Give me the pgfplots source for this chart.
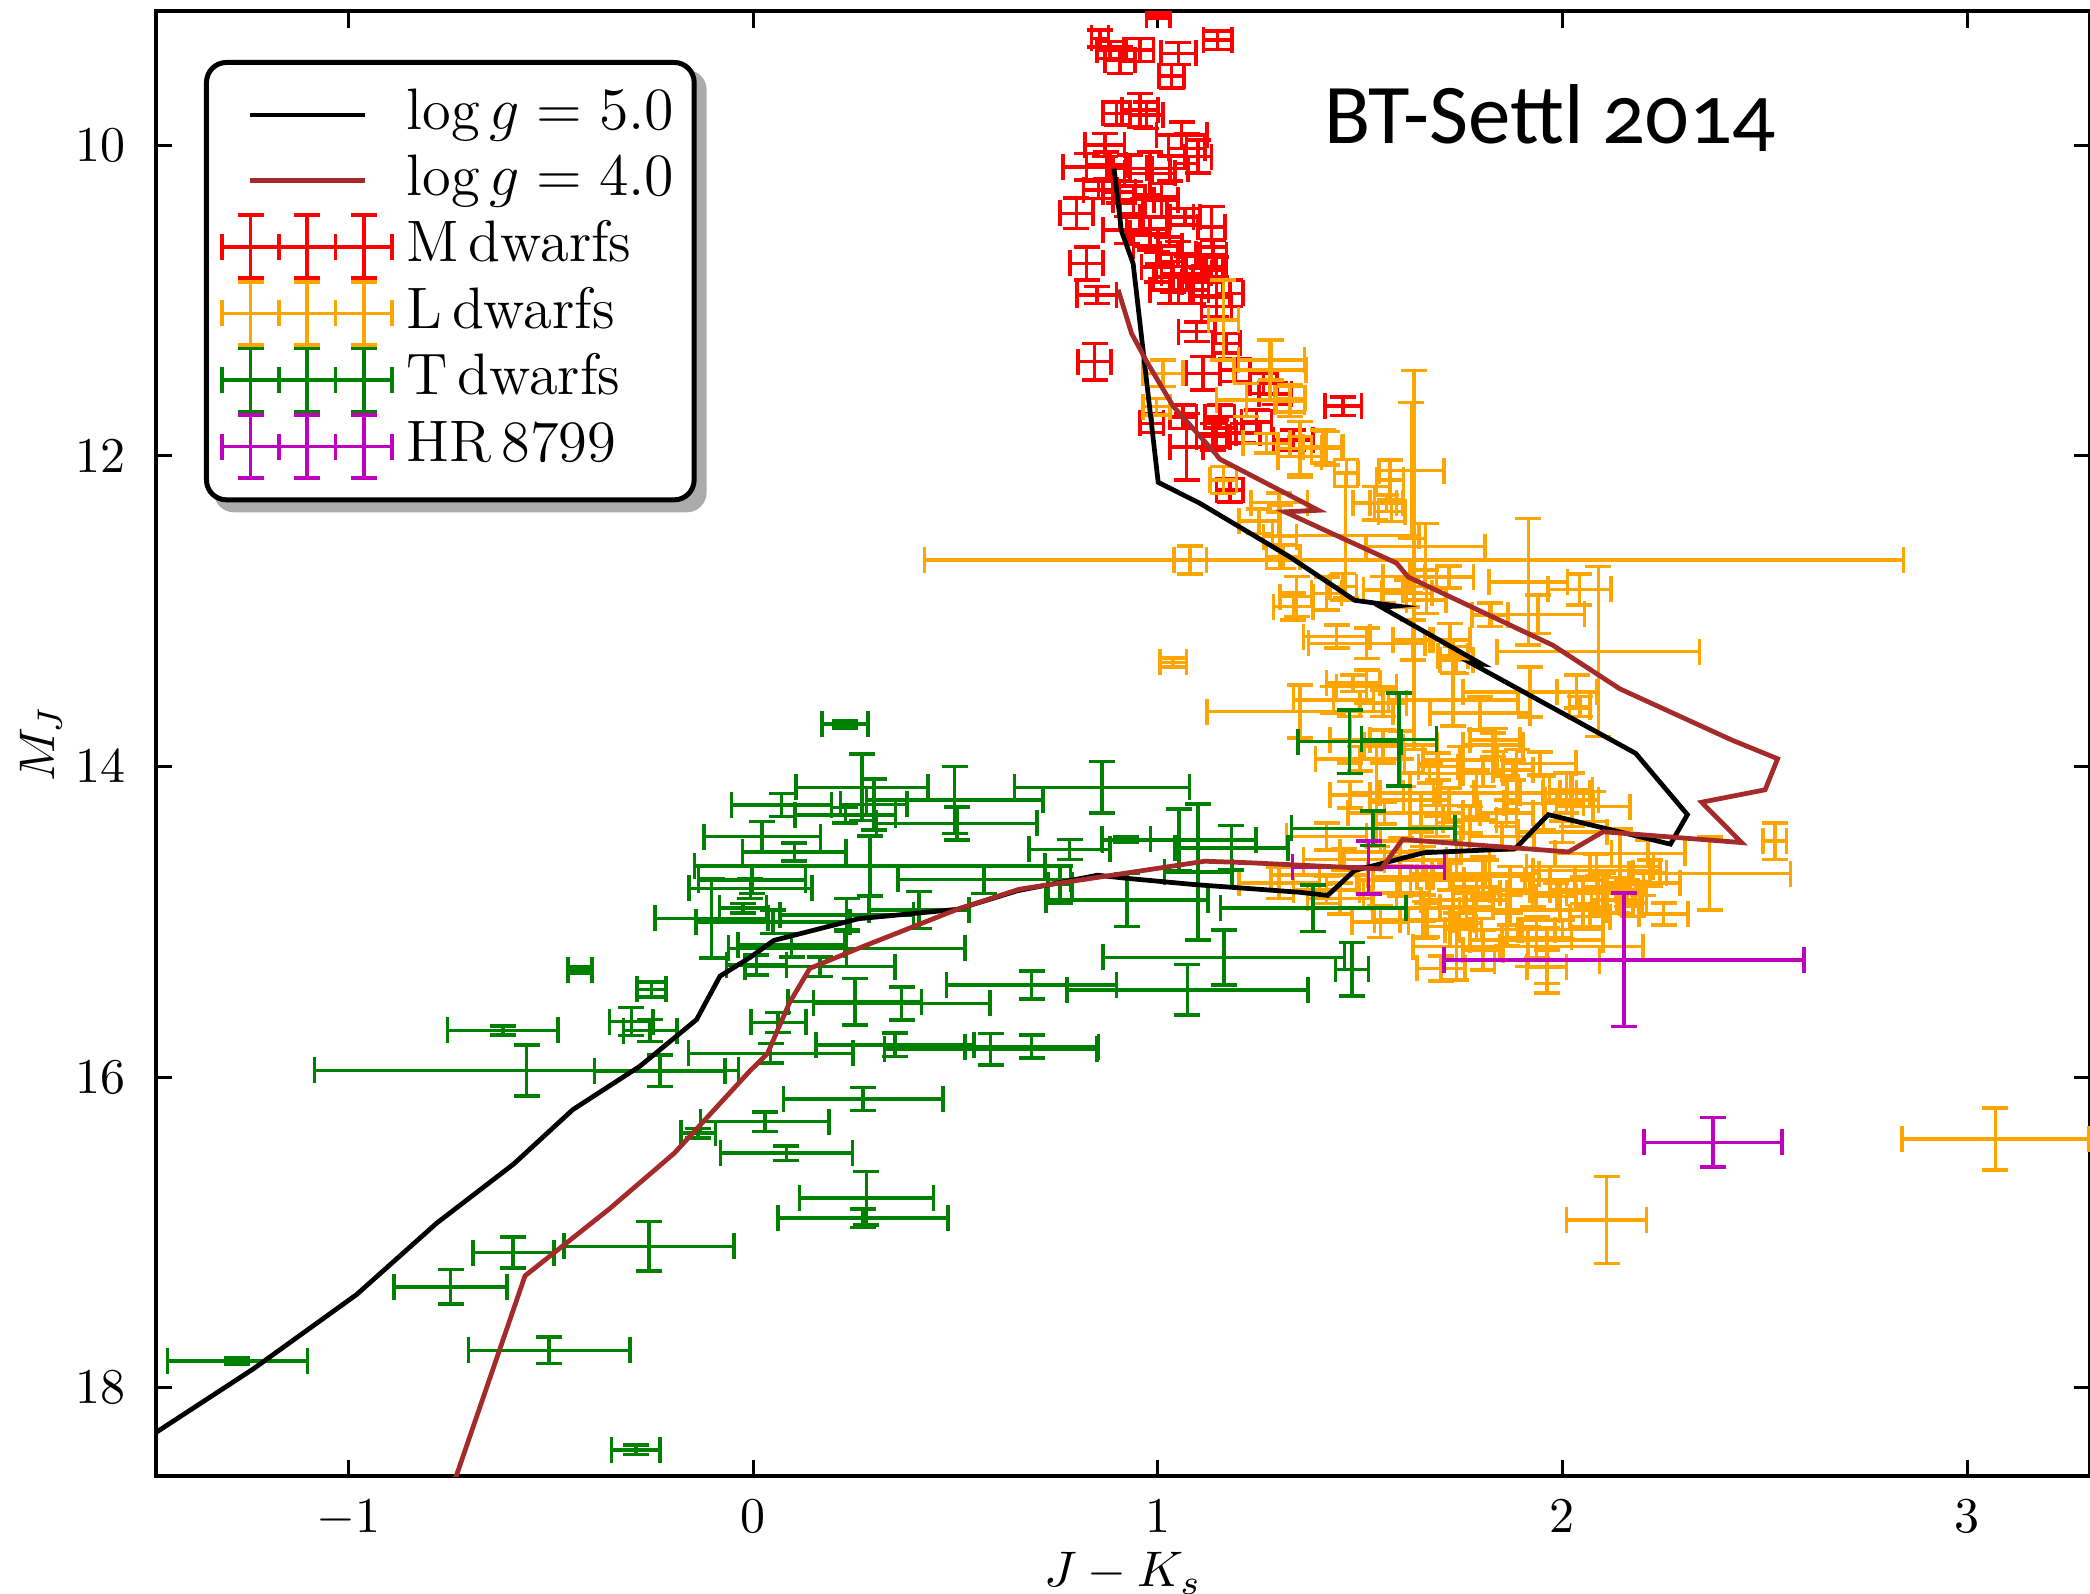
\documentclass[border=0pt]{standalone}
\usepackage{fontspec}
\usepackage{pgfplots}
\pgfplotsset{compat=1.18}
\usepackage{pgfplotstable}
\pgfdeclarelayer{background}
\pgfsetlayers{background,main}
\newfontfamily\titlefont[Numbers=OldStyle]{Carlito}
\definecolor{mred}{rgb}{1,0,0}
\definecolor{lorange}{rgb}{1,0.647,0}
\definecolor{tgreen}{rgb}{0,0.5,0}
\definecolor{hrmag}{rgb}{0.75,0,0.75}
\definecolor{brownline}{HTML}{A52A2A}
\pgfplotsset{
 shortline/.style={legend image code/.code={\draw[##1] (5.5pt,0pt)--(28.5pt,0pt);}},
 errleg/.style={legend image code/.code={%
   \draw[##1] (0pt,0pt)--(34pt,0pt);
   \foreach \c in {0,11.33,22.67,34}{\draw[##1] (\c pt,-2.6pt)--(\c pt,2.6pt);}
   \foreach \c in {5.67,17,28.33}{%
     \draw[##1] (\c pt,-6.3pt)--(\c pt,6.3pt);
     \draw[##1] (\c pt-2.6pt,-6.3pt)--(\c pt+2.6pt,-6.3pt);
     \draw[##1] (\c pt-2.6pt,6.3pt)--(\c pt+2.6pt,6.3pt);}
 }},
 errpts/.style={color=#1, only marks, mark=*, mark size=0pt, line width=0.72pt,
   error bars/.cd, x dir=both, x explicit, y dir=both, y explicit,
   error bar style={line width=0.72pt, #1},
   error mark options={rotate=90, line width=0.72pt, mark size=2.6pt, #1},
   /pgfplots/.cd},
}
\pgfplotstableread{
x y ex ey
1.001 9.161 0.029 0.021
0.857 9.311 0.021 0.054
0.882 9.386 0.033 0.054
0.906 9.451 0.037 0.086
0.956 9.386 0.033 0.075
1.051 9.408 0.043 0.071
1.034 9.554 0.031 0.075
1.148 9.322 0.035 0.060
0.956 9.773 0.045 0.107
0.898 9.794 0.033 0.075
0.972 9.805 0.041 0.086
1.059 9.934 0.062 0.086
1.071 10.020 0.045 0.097
1.100 10.073 0.033 0.107
0.869 9.998 0.049 0.075
0.824 10.138 0.058 0.086
0.873 10.127 0.049 0.086
0.931 10.148 0.041 0.086
0.980 10.181 0.062 0.140
0.853 10.288 0.037 0.054
0.799 10.438 0.041 0.097
1.009 10.352 0.041 0.107
0.964 10.460 0.058 0.118
1.022 10.460 0.066 0.129
1.067 10.460 0.037 0.054
1.133 10.524 0.033 0.129
0.923 10.545 0.058 0.086
0.980 10.567 0.049 0.107
1.137 10.706 0.033 0.097
0.824 10.760 0.041 0.107
0.997 10.782 0.037 0.097
1.038 10.846 0.049 0.097
1.071 10.824 0.062 0.107
1.112 10.782 0.049 0.075
1.145 10.782 0.025 0.064
1.030 10.932 0.049 0.086
1.088 10.932 0.037 0.086
0.849 10.964 0.049 0.054
1.145 11.039 0.037 0.064
1.178 10.953 0.033 0.086
1.096 11.200 0.045 0.064
1.170 11.275 0.033 0.064
0.844 11.393 0.041 0.118
1.112 11.468 0.041 0.107
1.191 11.447 0.037 0.075
1.261 11.533 0.033 0.064
1.458 11.679 0.045 0.060
0.985 11.790 0.029 0.060
1.063 11.748 0.033 0.075
1.071 11.941 0.041 0.215
1.145 11.855 0.049 0.086
1.244 11.780 0.037 0.075
1.335 11.898 0.049 0.064
1.178 12.220 0.033 0.075
1.137 11.876 0.041 0.086
1.211 11.854 0.041 0.064
1.153 11.747 0.037 0.075
1.290 11.600 0.040 0.070
0.940 10.350 0.050 0.090
1.000 10.650 0.060 0.110
1.050 10.700 0.045 0.080
0.905 10.300 0.040 0.070
1.110 10.880 0.050 0.090
1.030 10.150 0.045 0.080
}\Mdw
\pgfplotstableread{
x y ex ey
1.281 11.382 0.082 0.129
1.162 11.125 0.037 0.258
1.013 11.468 0.049 0.086
0.997 11.683 0.033 0.054
1.219 11.640 0.074 0.107
1.327 11.630 0.037 0.086
1.409 11.940 0.049 0.107
1.351 12.005 0.054 0.129
1.269 11.919 0.058 0.064
1.466 12.110 0.029 0.086
1.162 12.155 0.033 0.086
1.574 12.155 0.033 0.129
1.565 12.305 0.041 0.054
1.277 11.447 0.089 0.193
1.326 11.650 0.037 0.097
1.351 11.951 0.054 0.172
1.417 11.951 0.037 0.107
1.627 12.094 0.080 0.437
1.633 12.670 1.210 1.220
1.464 12.513 0.181 0.400
1.536 12.305 0.054 0.107
1.578 12.359 0.033 0.064
1.302 12.520 0.041 0.204
1.662 12.584 0.147 0.150
1.916 12.810 0.097 0.408
2.042 12.859 0.078 0.100
2.089 13.260 0.250 0.547
1.940 13.020 0.115 0.124
1.821 13.024 0.045 0.075
1.920 13.520 0.165 0.160
2.035 13.518 0.049 0.107
1.730 13.290 0.037 0.107
1.516 13.207 0.144 0.097
1.442 13.163 0.082 0.075
1.351 13.646 0.230 0.170
1.483 13.464 0.066 0.054
1.343 12.906 0.041 0.129
1.417 12.885 0.037 0.107
1.310 12.649 0.041 0.075
1.664 12.928 0.049 0.086
1.615 12.885 0.062 0.086
1.080 12.670 0.040 0.090
1.038 13.330 0.033 0.030
1.600 13.860 0.090 0.090
1.829 13.860 0.074 0.075
1.944 13.980 0.090 0.075
1.878 14.022 0.049 0.064
2.043 13.614 0.025 0.064
1.730 13.570 0.160 0.170
1.796 13.657 0.124 0.107
1.833 13.829 0.062 0.075
1.693 14.000 0.049 0.086
1.541 14.172 0.066 0.343
1.623 14.170 0.074 0.129
1.788 14.172 0.107 0.150
1.887 14.170 0.107 0.280
1.953 14.237 0.099 0.172
2.023 14.215 0.066 0.172
2.076 14.258 0.091 0.097
1.689 14.387 0.066 0.064
1.771 14.344 0.066 0.086
1.475 14.183 0.049 0.086
1.417 14.450 0.099 0.086
2.142 14.559 0.160 0.155
2.212 14.559 0.091 0.086
2.084 14.670 0.157 0.107
2.364 14.690 0.200 0.236
2.525 14.480 0.029 0.118
1.738 14.602 0.082 0.107
1.804 14.709 0.124 0.129
1.969 14.730 0.062 0.086
2.051 14.795 0.082 0.086
2.134 14.859 0.062 0.086
2.068 14.967 0.049 0.064
1.870 14.924 0.124 0.097
1.763 14.902 0.066 0.107
1.660 14.988 0.124 0.118
1.936 15.117 0.165 0.129
1.738 15.160 0.107 0.215
1.961 15.290 0.049 0.107
1.915 15.160 0.284 0.129
1.598 14.709 0.066 0.129
1.300 14.750 0.100 0.100
1.400 14.700 0.120 0.060
1.450 14.850 0.080 0.100
1.500 13.950 0.110 0.080
1.560 14.300 0.090 0.070
1.650 14.480 0.100 0.060
1.720 14.250 0.070 0.110
1.460 14.600 0.100 0.070
1.600 14.550 0.150 0.090
1.850 14.450 0.080 0.090
2.000 14.420 0.110 0.070
2.200 14.750 0.090 0.080
2.250 14.950 0.060 0.070
2.000 15.050 0.100 0.060
1.800 15.050 0.090 0.070
1.700 15.300 0.060 0.080
1.550 15.000 0.070 0.100
1.962 15.250 0.130 0.210
1.300 12.300 0.070 0.060
1.250 12.420 0.050 0.080
1.720 12.780 0.060 0.070
2.109 16.920 0.099 0.280
3.070 16.400 0.230 0.200
1.417 14.795 0.082 0.086
1.590 14.816 0.082 0.097
1.656 14.913 0.124 0.086
1.722 15.031 0.066 0.129
1.804 15.181 0.049 0.129
1.870 14.795 0.049 0.150
1.928 14.816 0.066 0.086
1.985 14.838 0.049 0.086
2.051 14.924 0.058 0.107
2.101 14.816 0.091 0.129
2.159 14.816 0.049 0.086
2.175 14.880 0.033 0.086
2.068 14.645 0.157 0.086
2.216 14.687 0.041 0.086
1.722 14.709 0.082 0.086
1.788 14.816 0.058 0.086
1.656 14.602 0.058 0.086
1.607 14.215 0.082 0.086
1.672 14.044 0.074 0.064
1.747 13.958 0.091 0.086
1.804 14.044 0.049 0.086
1.689 14.301 0.066 0.086
1.862 14.301 0.066 0.086
2.010 14.172 0.058 0.129
1.557 13.872 0.049 0.107
1.475 13.829 0.049 0.150
1.557 13.593 0.058 0.086
1.434 13.571 0.099 0.086
1.516 13.486 0.074 0.107
1.722 13.185 0.049 0.107
1.738 13.314 0.041 0.086
1.631 13.185 0.049 0.129
1.335 12.970 0.049 0.086
1.623 12.777 0.066 0.107
1.557 12.863 0.049 0.086
1.458 12.842 0.033 0.086
1.863 14.170 0.172 0.107
2.021 14.150 0.053 0.107
2.088 14.810 0.093 0.107
2.141 14.860 0.053 0.086
1.665 14.990 0.066 0.107
1.863 15.050 0.119 0.107
1.936 15.100 0.086 0.129
1.757 14.860 0.106 0.086
1.625 14.730 0.132 0.086
1.810 14.690 0.132 0.086
}\Ldw
\pgfplotstableread{
x y ex ey
0.227 13.727 0.057 0.024
0.269 14.134 0.163 0.215
0.498 14.216 0.218 0.215
0.503 14.366 0.198 0.107
0.298 14.244 0.082 0.165
0.070 14.248 0.124 0.073
0.228 14.313 0.124 0.049
0.022 14.452 0.144 0.097
0.102 14.549 0.128 0.058
0.288 14.641 0.433 0.193
-0.003 14.731 0.132 0.086
0.571 14.727 0.213 0.090
-0.007 14.785 0.152 0.064
-0.103 14.978 0.140 0.255
0.231 14.956 0.165 0.107
0.410 14.924 0.124 0.118
0.049 15.000 0.190 0.075
-0.025 14.913 0.058 0.032
0.095 15.150 0.132 0.075
0.231 15.171 0.292 0.118
0.008 15.278 0.074 0.064
0.165 15.289 0.185 0.064
0.251 15.514 0.165 0.150
0.367 15.525 0.218 0.107
0.688 15.407 0.210 0.092
-0.251 15.435 0.036 0.049
-0.301 15.643 0.054 0.090
-0.255 15.701 0.066 0.071
0.062 15.648 0.068 0.064
0.043 15.847 0.203 0.064
0.350 15.793 0.195 0.075
0.587 15.821 0.262 0.101
0.688 15.804 0.165 0.075
-0.231 15.959 0.161 0.101
0.272 16.141 0.197 0.075
0.029 16.287 0.159 0.064
-0.136 16.362 0.043 0.032
0.082 16.490 0.163 0.047
0.280 16.780 0.166 0.172
0.272 16.909 0.210 0.060
-0.560 15.957 0.524 0.165
-0.619 15.700 0.137 0.030
-0.428 15.310 0.030 0.020
-0.593 17.130 0.100 0.100
-0.257 17.090 0.210 0.160
-0.748 17.350 0.140 0.110
-0.504 17.760 0.200 0.085
-1.275 17.830 0.173 0.020
-0.290 18.400 0.060 0.030
0.862 14.134 0.216 0.167
1.053 14.474 0.190 0.200
1.100 14.680 0.083 0.438
1.182 14.523 0.140 0.144
0.922 14.470 0.060 0.017
0.782 14.534 0.100 0.064
0.758 14.760 0.030 0.118
0.924 14.860 0.200 0.170
1.532 14.398 0.202 0.112
1.474 13.840 0.128 0.204
1.596 13.825 0.093 0.300
1.384 14.913 0.229 0.150
1.163 15.229 0.298 0.178
1.480 15.306 0.041 0.172
1.073 15.439 0.298 0.163
}\Tdw
\pgfplotstableread{
x y ex ey
1.521 14.649 0.188 0.171
2.152 15.245 0.445 0.430
2.372 16.420 0.171 0.159
}\HRp
\begin{document}
\begin{tikzpicture}
\useasboundingbox (-31.2pt,-23.6pt) rectangle (386.8pt,295.2pt);
\begin{axis}[
 at={(0pt,0pt)}, anchor=south west,
 scale only axis, width=386.8pt, height=293pt,
 xmin=-1.476, xmax=3.304, ymin=9.135, ymax=18.569, y dir=reverse,
 xtick={-1,0,1,2,3}, ytick={10,12,14,16,18},
 minor tick num=0,
 tick align=inside, major tick length=3.3pt,
 axis line style={line width=0.9pt},
 tick style={line width=0.6pt, black},
 ticklabel style={font=\fontsize{10}{12}\selectfont, inner sep=1pt},
 xticklabel style={yshift=-3.6pt},
 yticklabel style={xshift=-4.9pt},
 xlabel={$J-K_s$}, ylabel={$M_J$},
 every axis x label/.style={at={(axis description cs:0.5,-0.0755)}, anchor=base, inner sep=1pt, font=\fontsize{10.3}{12}\selectfont},
 every axis y label/.style={at={(axis description cs:-0.0527,0.5)}, rotate=90, anchor=base, inner sep=1pt, font=\fontsize{10.3}{12}\selectfont},
 legend style={name=leg, at={(axis description cs:0.0248,0.9666)}, anchor=north west,
   draw=black, line width=1pt, rounded corners=4pt, fill=white,
   font=\fontsize{11.7}{14}\selectfont, inner xsep=2.8pt, inner ysep=4pt,
   nodes={inner sep=1.2pt, text height=8.3pt, text depth=2.4pt},
   column sep=1.3pt},
 legend cell align=left,
]
\addlegendimage{shortline, black, line width=0.9pt}
\addlegendentry{$\log g = 5.0$}
\addlegendimage{shortline, brownline, line width=0.9pt}
\addlegendentry{$\log g = 4.0$}
\addlegendimage{errleg, mred, line width=0.72pt}
\addlegendentry{M\,dwarfs}
\addlegendimage{errleg, lorange, line width=0.72pt}
\addlegendentry{L\,dwarfs}
\addlegendimage{errleg, tgreen, line width=0.72pt}
\addlegendentry{T\,dwarfs}
\addlegendimage{errleg, hrmag, line width=0.72pt}
\addlegendentry{HR\,8799}

\addplot[forget plot, errpts=mred] table[x=x, y=y, x error=ex, y error=ey] {\Mdw};
\addplot[forget plot, errpts=lorange] table[x=x, y=y, x error=ex, y error=ey] {\Ldw};
\addplot[forget plot, errpts=tgreen] table[x=x, y=y, x error=ex, y error=ey] {\Tdw};
\addplot[forget plot, errpts=hrmag] table[x=x, y=y, x error=ex, y error=ey] {\HRp};

\addplot[black, line width=0.95pt, mark=none, forget plot] coordinates {
(0.892,10.15) (0.910,10.55) (0.939,10.76) (1.001,12.17) (1.104,12.305) (1.326,12.65)
(1.487,12.93) (1.590,12.966) (1.553,12.975) (1.780,13.31) (1.800,13.34) (1.775,13.335)
(2.181,13.915) (2.309,14.31) (2.267,14.50) (1.965,14.31) (1.883,14.53) (1.658,14.555)
(1.486,14.67) (1.420,14.83) (1.351,14.81) (1.089,14.76) (0.923,14.72) (0.851,14.70)
(0.653,14.80) (0.504,14.92) (0.261,14.98) (0.051,15.12) (-0.008,15.23) (-0.082,15.35)
(-0.140,15.63) (-0.280,15.93) (-0.446,16.21) (-0.592,16.56) (-0.782,16.94) (-0.980,17.40)
(-1.236,17.88) (-1.477,18.29) (-1.55,18.41)};
\addplot[brownline, line width=0.95pt, mark=none, forget plot] coordinates {
(0.902,10.93) (0.935,11.21) (0.972,11.39) (1.038,11.68) (1.141,11.98) (1.153,12.02)
(1.397,12.35) (1.314,12.36) (1.590,12.69) (1.619,12.78) (1.977,13.22) (2.142,13.50)
(2.419,13.83) (2.532,13.95) (2.501,14.15) (2.344,14.23) (2.443,14.49) (2.101,14.42)
(2.015,14.55) (1.605,14.47) (1.552,14.66) (1.228,14.62) (1.116,14.61) (0.658,14.79)
(0.504,14.92) (0.261,15.17) (0.140,15.30) (0.090,15.52) (0.035,15.85) (-0.008,15.96)
(-0.195,16.49) (-0.356,16.85) (-0.564,17.28) (-0.734,18.57) (-0.75,18.65)};

\node[anchor=base] at (axis cs:1.969,9.99) {\titlefont\fontsize{17}{20}\selectfont BT-Settl 2014};
\end{axis}
\begin{pgfonlayer}{background}
\fill[black!33, rounded corners=4pt] ([shift={(2pt,-2pt)}]leg.south west) rectangle ([shift={(2pt,-2pt)}]leg.north east);
\end{pgfonlayer}
\end{tikzpicture}
\end{document}
